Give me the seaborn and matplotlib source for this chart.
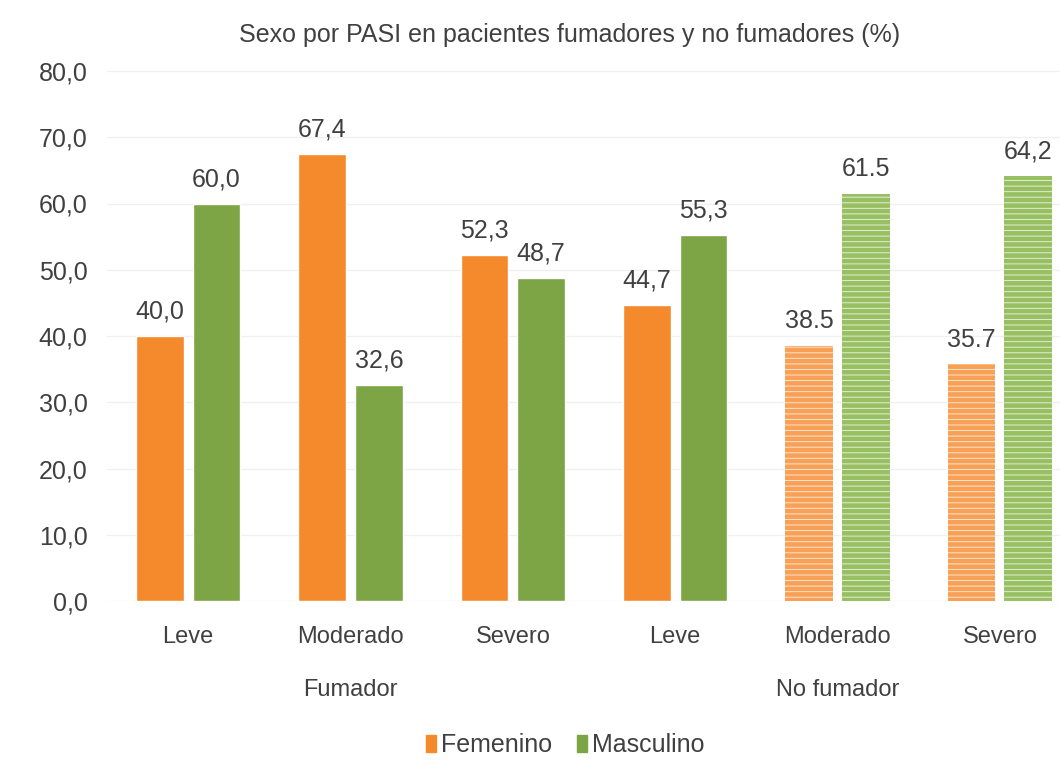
import seaborn as sns
import pandas as pd
import matplotlib.pyplot as plt
from matplotlib.patches import Patch

# Chart data
groups = ["Fumador", "Fumador", "Fumador", "No fumador", "No fumador", "No fumador"]
severity = ["Leve", "Moderado", "Severo", "Leve", "Moderado", "Severo"]
femenino = [40.0, 67.4, 52.3, 44.7, 38.5, 35.7]
masculino = [60.0, 32.6, 48.7, 55.3, 61.5, 64.2]
femenino_labels = ["40,0", "67,4", "52,3", "44,7", "38.5", "35.7"]
masculino_labels = ["60,0", "32,6", "48,7", "55,3", "61.5", "64,2"]
y_ticks = [0, 10, 20, 30, 40, 50, 60, 70, 80]
hatched = [False, False, False, False, True, True]

keys = [f"{g}|{s}" for g, s in zip(groups, severity)]
df = pd.DataFrame({
    "cat": keys * 2,
    "sexo": ["Femenino"] * len(keys) + ["Masculino"] * len(keys),
    "pct": femenino + masculino,
})

orange, green = "#f58a2c", "#7da445"
orange_l, green_l = "#f8a055", "#98bf62"
text_col = "#404040"

sns.set_style("white")
plt.rcParams["font.family"] = ["Liberation Sans", "DejaVu Sans"]
plt.rcParams["hatch.linewidth"] = 0.7

fig = plt.figure(figsize=(10.6, 7.8), dpi=100)
ax = fig.add_axes([107 / 1060, 179 / 780, 974 / 1060, 530 / 780])

sns.barplot(data=df, x="cat", y="pct", hue="sexo", order=keys,
            palette=[orange, green], width=0.7, gap=0.16,
            legend=False, ax=ax, saturation=1)

light = [orange_l, green_l]
labels = [femenino_labels, masculino_labels]
for ci, cont in enumerate(ax.containers):
    for bi, bar in enumerate(cont):
        if hatched[bi]:
            bar.set_facecolor(light[ci])
            bar.set_edgecolor("#fbe6d2" if ci == 0 else "#e3eed5")
            bar.set_linewidth(0)
            bar.set_hatch("---")
    ax.bar_label(cont, labels=labels[ci], padding=9, fontsize=18, color=text_col)

ax.set_ylim(0, 80)
ax.set_yticks(y_ticks)
ax.set_yticklabels([f"{t:.1f}".replace(".", ",") for t in y_ticks])
ax.set_xticks(range(len(keys)))
ax.set_xticklabels(severity)
ax.tick_params(axis="x", pad=18, labelsize=17, colors=text_col, length=0)
ax.tick_params(axis="y", pad=14, labelsize=18, colors=text_col, length=0)
ax.yaxis.grid(True, color="#f0f0f0", linewidth=1)
ax.set_axisbelow(True)
ax.set_xlabel("")
ax.set_ylabel("")
for sp in ax.spines.values():
    sp.set_visible(False)

# group labels under categories
for g in dict.fromkeys(groups):
    idx = [i for i, gg in enumerate(groups) if gg == g]
    ax.text(sum(idx) / len(idx), -0.168, g, transform=ax.get_xaxis_transform(),
            ha="center", va="center", fontsize=17, color=text_col)

fig.text(570 / 1060, 1 - 35 / 780, "Sexo por PASI en pacientes fumadores y no fumadores (%)",
         ha="center", va="center", fontsize=18, color=text_col)

handles = [Patch(color=orange, label="Femenino"), Patch(color=green, label="Masculino")]
fig.legend(handles=handles, loc="center", bbox_to_anchor=(565 / 1060, 1 - 745 / 780),
           ncol=2, frameon=False, fontsize=18, handlelength=0.4, handleheight=0.7,
           handletextpad=0.2, columnspacing=1.0, labelcolor=text_col)

fig.savefig("out.png", dpi=100)
